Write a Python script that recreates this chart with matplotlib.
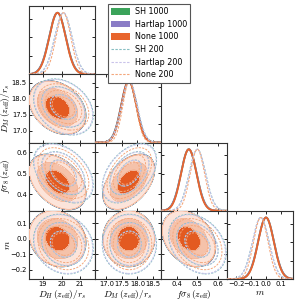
import numpy as np
import matplotlib
matplotlib.use("Agg")
import matplotlib.pyplot as plt
from matplotlib.patches import Patch
from matplotlib.lines import Line2D

plt.rcParams["mathtext.fontset"] = "cm"
plt.rcParams["font.family"] = ["DejaVu Sans"]

# ---------------- data ----------------
param_labels = [r"$D_H\,(z_{\rm eff})/r_s$", r"$D_M\,(z_{\rm eff})/r_s$",
                r"$f\sigma_8\,(z_{\rm eff})$", r"$m$"]
extents = [(18.24, 21.81), (16.63, 18.76), (0.322, 0.645), (-0.26, 0.18)]
ticks = [[19, 20, 21], [17.0, 17.5, 18.0, 18.5], [0.4, 0.5, 0.6], [-0.2, -0.1, 0.0, 0.1]]
tick_labels = [["19", "20", "21"], ["17.0", "17.5", "18.0", "18.5"],
               ["0.4", "0.5", "0.6"], ["\u22120.2", "\u22120.1", "0.0", "0.1"]]

chain_names = ["SH 1000", "Hartlap 1000", "None 1000", "SH 200", "Hartlap 200", "None 200"]
chain_colors = ["#3BA35A", "#8A7CC6", "#E8652D", "#86BEC2", "#C9C3EA", "#F4A77C"]

mean_1000 = [19.78, 17.72, 0.458, 0.000]
mean_200 = [20.10, 17.74, 0.500, -0.035]
chain_means = [mean_1000, mean_1000, mean_1000, mean_200, mean_200, mean_200]

sigma_SH_1000 = [0.45, 0.245, 0.0385, 0.053]
sigma_Hartlap_1000 = [0.45, 0.245, 0.0385, 0.053]
sigma_None_1000 = [0.44, 0.240, 0.0375, 0.052]
sigma_SH_200 = [0.47, 0.255, 0.041, 0.056]
sigma_Hartlap_200 = [0.46, 0.250, 0.040, 0.055]
sigma_None_200 = [0.40, 0.210, 0.035, 0.048]
chain_sigmas = [sigma_SH_1000, sigma_Hartlap_1000, sigma_None_1000,
                sigma_SH_200, sigma_Hartlap_200, sigma_None_200]

correlation = np.array([
    [1.00, -0.30, -0.40, -0.15],
    [-0.30, 1.00, 0.45, 0.00],
    [-0.40, 0.45, 1.00, -0.30],
    [-0.15, 0.00, -0.30, 1.00],
])

# contour levels (Mahalanobis r^2 for 68.3 / 95.4 / 99.7 %)
r2_levels = [2.30, 6.18, 11.83]
fill_colors = ["#E35A21", "#F5C2AA", "#FCE4DA"]

# ---------------- figure ----------------
W, H = 297, 301
fig = plt.figure(figsize=(W / 100, H / 100), dpi=100)
n = 4
left, right, top, bottom = 29 / W, 293 / W, 1 - 6 / H, 1 - 279 / H
gs = fig.add_gridspec(n, n, left=left, right=right, top=top, bottom=bottom,
                      hspace=0, wspace=0)

dash = (0, (2.2, 1.3))


def style_axis(ax):
    ax.tick_params(direction="in", top=True, right=True, length=2.5, width=0.6,
                   labelsize=4.9, pad=1.5)
    for s in ax.spines.values():
        s.set_linewidth(0.8)
        s.set_color("#333333")


for i in range(n):
    for j in range(n):
        if j > i:
            continue
        ax = fig.add_subplot(gs[i, j])
        style_axis(ax)
        xj = np.linspace(extents[j][0], extents[j][1], 400)
        if i == j:
            for c in range(6):
                mu = chain_means[c][j]
                sg = chain_sigmas[c][j]
                pdf = np.exp(-0.5 * ((xj - mu) / sg) ** 2)
                if c < 3:
                    ax.plot(xj, pdf, color=chain_colors[c], lw=1.3, zorder=2 + c)
                else:
                    ax.plot(xj, pdf, color=chain_colors[c], lw=0.8, ls=dash, zorder=6 + c)
            ax.set_ylim(0, 1.11)
            ax.set_yticks([0.3, 0.6, 0.9])
            ax.set_yticklabels([])
        else:
            yi = np.linspace(extents[i][0], extents[i][1], 400)
            X, Y = np.meshgrid(xj, yi)
            rho = correlation[i, j]
            for c in range(6):
                mx, my = chain_means[c][j], chain_means[c][i]
                sx, sy = chain_sigmas[c][j], chain_sigmas[c][i]
                dx = (X - mx) / sx
                dy = (Y - my) / sy
                R2 = (dx ** 2 - 2 * rho * dx * dy + dy ** 2) / (1 - rho ** 2)
                if c == 2:
                    ax.contourf(X, Y, R2, levels=[0] + r2_levels,
                                colors=fill_colors, zorder=3)
                    ax.contour(X, Y, R2, levels=r2_levels, colors=["#EE9A72"],
                               linewidths=0.4, zorder=4)
                elif c < 2:
                    ax.contour(X, Y, R2, levels=r2_levels, colors=[chain_colors[c]],
                               linewidths=0.4, zorder=2)
                else:
                    cs = ax.contour(X, Y, R2, levels=r2_levels, colors=[chain_colors[c]],
                                    linewidths=0.7, linestyles="--", zorder=6 + c)
                    cs.set_linestyle(dash)
            ax.set_ylim(extents[i])
            ax.set_yticks(ticks[i])
            if j == 0:
                ax.set_yticklabels(tick_labels[i])
                ax.set_ylabel(param_labels[i], fontsize=6.8)
                ax.yaxis.set_label_coords(-0.255, 0.5)
            else:
                ax.set_yticklabels([])
        ax.set_xlim(extents[j])
        ax.set_xticks(ticks[j])
        if i == n - 1:
            ax.set_xticklabels(tick_labels[j])
            ax.set_xlabel(param_labels[j], fontsize=6.8)
            ax.xaxis.set_label_coords(0.5, -0.125)
        else:
            ax.set_xticklabels([])

handles = [Patch(facecolor=chain_colors[0], edgecolor="none"),
           Patch(facecolor=chain_colors[1], edgecolor="none"),
           Patch(facecolor=chain_colors[2], edgecolor="none"),
           Line2D([], [], color=chain_colors[3], lw=0.8, ls=dash),
           Line2D([], [], color=chain_colors[4], lw=0.8, ls=dash),
           Line2D([], [], color=chain_colors[5], lw=0.8, ls=dash)]
leg = fig.legend(handles, chain_names, loc="upper left",
                 bbox_to_anchor=(108 / W, 1 - 4 / H), fontsize=5.8,
                 frameon=True, fancybox=False, framealpha=1, edgecolor="#555555",
                 handlelength=2.3, handleheight=0.9, labelspacing=0.45,
                 borderpad=0.4, handletextpad=0.6, borderaxespad=0)
leg.get_frame().set_linewidth(0.8)
leg.set_zorder(20)

fig.savefig("out.png", dpi=100)
